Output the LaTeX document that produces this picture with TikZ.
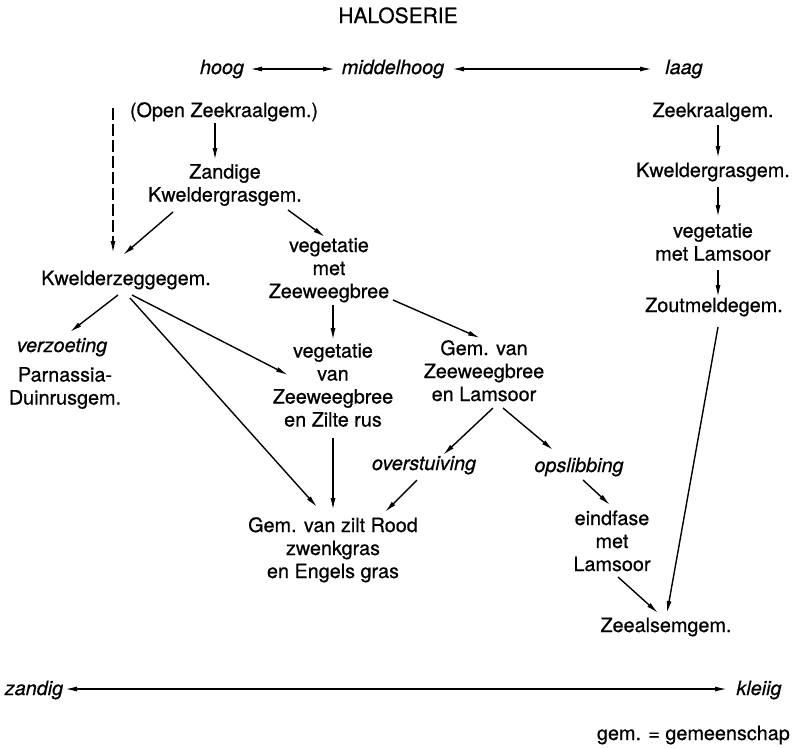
\documentclass[tikz,border=0pt]{standalone}
\usepackage{fontspec}
\setmainfont{TeX Gyre Heros}[FakeBold=0.6]
\usetikzlibrary{arrows.meta}
\newcommand{\ls}{\rule[-6.5pt]{0pt}{23pt}}
\tikzset{
  lbl/.style={inner sep=0pt, align=center, font=\fontsize{19.8}{23}\selectfont},
  ital/.style={lbl, font=\fontsize{19.8}{23}\selectfont\itshape},
  arr/.style={line width=1.4pt, -{Latex[length=12pt,width=5pt]}},
  darr/.style={line width=1.4pt, {Latex[length=12pt,width=5pt]}-{Latex[length=12pt,width=5pt]}},
}
\begin{document}
\begin{tikzpicture}[x=1pt,y=-1pt]
\useasboundingbox (0,0) rectangle (800,748);
% title and scale
\node[lbl, font=\fontsize{21}{24}\selectfont] (title) at (398,18) {\ls HALOSERIE};
\node[ital] (hoog) at (222,69) {\ls hoog};
\node[ital] (mid) at (393,69) {\ls middelhoog};
\node[ital] (laag) at (684,69) {\ls laag};
% nodes
\node[lbl] (open) at (224,112) {\ls(Open Zeekraalgem.)};
\node[lbl] (zandige) at (225,185) {\ls Zandige\\\ls Kweldergrasgem.};
\node[lbl] (kz) at (126,280) {\ls Kwelderzeggegem.};
\node[lbl] (vm) at (329,270) {\ls vegetatie\\\ls met\\\ls Zeeweegbree};
\node[lbl] (vv) at (333,387) {\ls vegetatie\\\ls van\\\ls Zeeweegbree\\\ls en Zilte rus};
\node[lbl] (gz) at (484,373) {\ls Gem. van\\\ls Zeeweegbree\\\ls en Lamsoor};
\node[ital] (verz) at (62,347) {\ls verzoeting};
\node[lbl] (parn) at (65,388) {\ls Parnassia-\\\ls Duinrusgem.};
\node[lbl] (gem) at (333,550) {\ls Gem. van zilt Rood\\\ls zwenkgras\\\ls en Engels gras};
\node[ital] (over) at (424,465) {\ls overstuiving};
\node[ital] (opsl) at (579,467) {\ls opslibbing};
\node[lbl] (eind) at (612,543) {\ls eindfase\\\ls met\\\ls Lamsoor};
\node[lbl] (zeeal) at (666,627) {\ls Zeealsemgem.};
\node[lbl] (zk) at (713,112) {\ls Zeekraalgem.};
\node[lbl] (kg) at (713,172) {\ls Kweldergrasgem.};
\node[lbl] (vl) at (713,244) {\ls vegetatie\\\ls met Lamsoor};
\node[lbl] (zm) at (714,307) {\ls Zoutmeldegem.};
\node[ital] (zandig) at (34,690) {\ls zandig};
\node[ital] (kleiig) at (759,690) {\ls kleiig};
\node[lbl, anchor=east] (legend) at (790,735) {\ls gem. = gemeenschap};
% connectors
\draw[darr] ([shift={(28,0)}]hoog.center) -- ([shift={(-58,0)}]mid.center);
\draw[darr] ([shift={(59,0)}]mid.center) -- ([shift={(-32,0)}]laag.center);
\draw[arr] ([shift={(-9,11)}]open.center) -- ([shift={(-10,-25)}]zandige.center);
\draw[arr, dash pattern=on 12pt off 4pt] ([shift={(-111,-4)}]open.center) -- ([shift={(-13,-27)}]kz.center);
\draw[arr] ([shift={(-52,27)}]zandige.center) -- ([shift={(-3,-25)}]kz.center);
\draw[arr] ([shift={(63,25)}]zandige.center) -- ([shift={(-4,-33)}]vm.center);
\draw[arr] ([shift={(4,35)}]vm.center) -- ([shift={(0,-47)}]vv.center);
\draw[arr] ([shift={(64,30)}]vm.center) -- ([shift={(-4,-35)}]gz.center);
\draw[arr] ([shift={(-8,15)}]kz.center) -- ([shift={(8,-15)}]verz.center);
\draw[arr] ([shift={(6,15)}]kz.center) -- ([shift={(-45,-12)}]vv.center);
\draw[arr] ([shift={(4,18)}]kz.center) -- ([shift={(-16,-43)}]gem.center);
\draw[arr] ([shift={(0,51)}]vv.center) -- ([shift={(0,-40)}]gem.center);
\draw[arr] ([shift={(9,35)}]gz.center) -- ([shift={(19,-10)}]over.center);
\draw[arr] ([shift={(19,35)}]gz.center) -- ([shift={(-26,-17)}]opsl.center);
\draw[arr] ([shift={(-7,15)}]over.center) -- ([shift={(52,-38)}]gem.center);
\draw[arr] ([shift={(4,13)}]opsl.center) -- ([shift={(-2,-38)}]eind.center);
\draw[arr] ([shift={(6,34)}]eind.center) -- ([shift={(-8,-14)}]zeeal.center);
\draw[arr] ([shift={(5,13)}]zk.center) -- ([shift={(5,-14)}]kg.center);
\draw[arr] ([shift={(5,15)}]kg.center) -- ([shift={(5,-27)}]vl.center);
\draw[arr] ([shift={(5,26)}]vl.center) -- ([shift={(4,-10)}]zm.center);
\draw[arr] ([shift={(4,20)}]zm.center) -- ([shift={(1,-14)}]zeeal.center);
\draw[darr] ([shift={(31,-1)}]zandig.center) -- ([shift={(-32,-1)}]kleiig.center);
\end{tikzpicture}
\end{document}
